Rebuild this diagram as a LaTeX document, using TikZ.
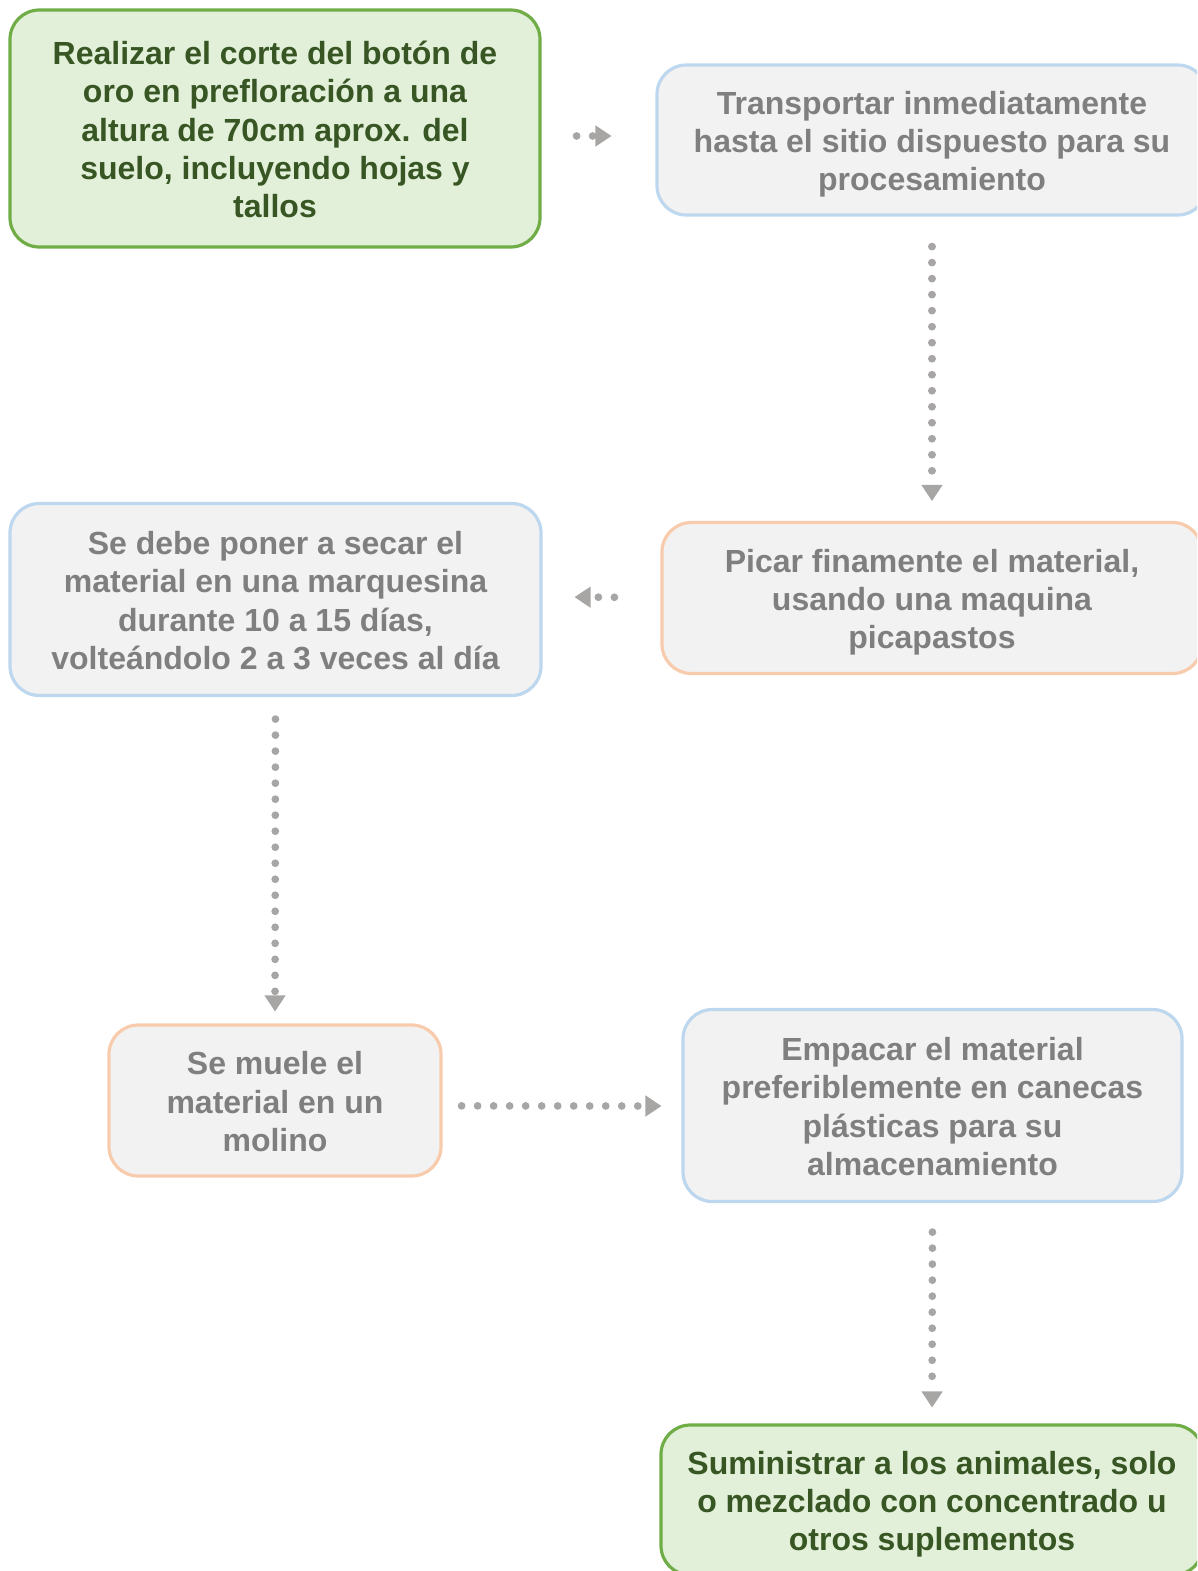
\documentclass[tikz,border=0pt]{standalone}
\usepackage{fontspec}
\setmainfont{Liberation Sans}
\usetikzlibrary{arrows.meta}
\definecolor{gfill}{HTML}{E2F0D9}
\definecolor{gline}{HTML}{70AD47}
\definecolor{gtext}{HTML}{375623}
\definecolor{boxfill}{HTML}{F2F2F2}
\definecolor{bline}{HTML}{BDD7EE}
\definecolor{oline}{HTML}{F8CBAD}
\definecolor{ttext}{HTML}{7F7F7F}
\definecolor{arr}{HTML}{A8A5A5}
\newcommand{\topstrut}{\rule{0pt}{24.8pt}}
\newcommand{\botstrut}{\rule[-6pt]{0pt}{6pt}}
\tikzset{
  boxbase/.style={rounded corners=22pt, line width=2.4pt, align=center, inner sep=0pt,
    font=\fontsize{24pt}{28.8pt}\selectfont\bfseries},
  greenbox/.style={boxbase, draw=gline, fill=gfill, text=gtext},
  bluebox/.style={boxbase, draw=bline, fill=boxfill, text=ttext},
  orangebox/.style={boxbase, draw=oline, fill=boxfill, text=ttext},
  conn/.style={draw=arr, line width=5.8pt, line cap=round, dash pattern=on 0.01pt off 12pt,
    -{Triangle[length=12pt,width=16pt,line width=0pt,fill=arr]}}
}
\begin{document}
\begin{tikzpicture}[x=0.75pt,y=-0.75pt]
\useasboundingbox (0,0) rectangle (1197,1571);
\clip (0,0) rectangle (1197,1571);
\node[greenbox, minimum width=397.5pt, minimum height=177.75pt] (b1) at (275,128.5)
  {\topstrut Realizar el corte del botón de\\oro en prefloración a una\\altura de 70cm aprox. del\\suelo, incluyendo hojas y\\tallos\botstrut};
\node[bluebox, minimum width=412.5pt, minimum height=112.5pt] (b2) at (932,140)
  {\topstrut Transportar inmediatamente\\hasta el sitio dispuesto para su\\procesamiento\botstrut};
\node[orangebox, minimum width=405pt, minimum height=113.25pt] (b3) at (932,598)
  {\topstrut Picar finamente el material,\\usando una maquina\\picapastos\botstrut};
\node[bluebox, minimum width=398.25pt, minimum height=144pt] (b4) at (275.5,599.5)
  {\topstrut Se debe poner a secar el\\material en una marquesina\\durante 10 a 15 días,\\volteándolo 2 a 3 veces al día\botstrut};
\node[orangebox, minimum width=249pt, minimum height=113.25pt] (b5) at (275,1100.5)
  {\topstrut Se muele el\\material en un\\molino\botstrut};
\node[bluebox, minimum width=374.25pt, minimum height=144pt] (b6) at (932.5,1105.5)
  {\topstrut Empacar el material\\preferiblemente en canecas\\plásticas para su\\almacenamiento\botstrut};
\node[greenbox, minimum width=406.5pt, minimum height=112.5pt] (b7) at (932,1500)
  {\topstrut Suministrar a los animales, solo\\o mezclado con concentrado u\\otros suplementos\botstrut};
\draw[conn, shorten <=26.25pt, shorten >=33pt] ([yshift=-5.6pt]b1.east) -- ([yshift=3pt]b2.west);
\draw[conn, shorten <=22.5pt, shorten >=15pt] (b2.south) -- (b3.north);
\draw[conn, shorten <=34.5pt, shorten >=24pt] ([yshift=0.4pt]b3.west) -- ([yshift=1.9pt]b4.east);
\draw[conn, shorten <=16.5pt, shorten >=9pt] (b4.south) -- (b5.north);
\draw[conn, shorten <=14.25pt, shorten >=15pt] ([yshift=-4pt]b5.east) -- ([yshift=-0.4pt]b6.west);
\draw[conn, shorten <=21.75pt, shorten >=12pt] (b6.south) -- (b7.north);
\end{tikzpicture}
\end{document}
